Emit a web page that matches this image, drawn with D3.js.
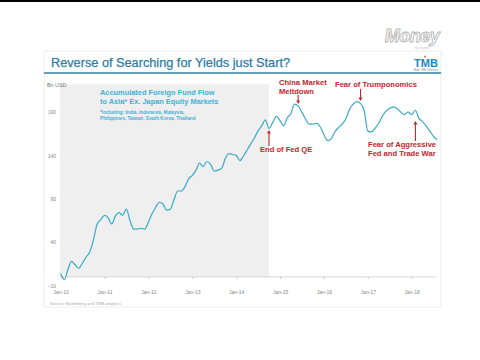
<!DOCTYPE html>
<html>
<head>
<meta charset="utf-8">
<script src="https://cdn.jsdelivr.net/npm/d3@7"></script>
<style>
body{margin:0;background:#fff}
svg{display:block;font-family:"Liberation Sans",Arial,sans-serif}
</style>
</head>
<body>
<svg id="chart" width="480" height="360"></svg>
<script>
// accumulated foreign fund flow, Bn USD, monthly from Jan-2010
const flow = [
	4, -3, 8, 18, 14, 10, 16, 23, 29, 43, 61, 66,
	71, 68, 61, 70, 74, 71, 78, 65, 55, 55, 56, 55,
	63, 73, 80, 86, 84, 77, 78, 89, 99, 99, 104, 113,
	117, 123, 131, 127, 133, 130, 122, 123, 125, 136, 142, 141,
	140, 134, 139, 146, 153, 160, 168, 174, 181, 171, 178, 185,
	180, 174, 183, 188, 199, 197, 190, 182, 176, 176, 177, 173,
	164, 157, 159, 167, 172, 176, 182, 193, 199, 202, 200, 192,
	168, 167, 171, 177, 185, 191, 194, 196, 194, 190, 187, 190,
	187, 192, 183, 179, 174, 168, 162, 158
];
const yTicks = [-10, 40, 90, 140, 190];
const xTickYears = [2010, 2011, 2012, 2013, 2014, 2015, 2016, 2017, 2018];
const shadeEnd = "2014-10";
const noteDates = ["2014-10", "2015-06", "2016-11", "2018-02"];
const noteLines = [
	["End of Fed QE"],
	["China Market", "Meltdown"],
	["Fear of Trumponomics"],
	["Fear of Aggressive", "Fed and Trade War"]
];
const chartTitle = "Reverse of Searching for Yields just Start?";
const seriesTitle = ["Accumulated Foreign Fund Flow", "to Asia* Ex. Japan Equity Markets"];
const footnote = ["*Including: India, Indonesia, Malaysia,", "Philippines, Taiwan, South Korea, Thailand"];

const svg = d3.select("#chart");
const parseM = d3.timeParse("%Y-%m");
const start = new Date(2010, 0, 1);
const data = flow.map((v, i) => ({date: d3.timeMonth.offset(start, i), v: v}));

const x = d3.scaleTime().domain([start, new Date(2018, 0, 1)]).range([60.7, 411.7]);
const y = d3.scaleLinear().domain([-10, 190]).range([285.6, 112]);

// frame
svg.append("rect").attr("x", 0).attr("y", 0).attr("width", 480).attr("height", 2).attr("fill", "#000");
svg.append("rect").attr("x", 44).attr("y", 51).attr("width", 397).attr("height", 256)
	.attr("fill", "#fff").attr("stroke", "#e8e8e8").attr("stroke-width", 0.8);

// watermark
svg.append("text").attr("x", 412).attr("y", 42).attr("text-anchor", "middle")
	.attr("font-size", 18).attr("font-weight", "bold").attr("font-style", "italic")
	.attr("fill", "#fff").attr("stroke", "#b5b5b5").attr("stroke-width", 0.9)
	.attr("letter-spacing", -0.5).text("Money");
svg.append("text").attr("x", 422).attr("y", 48.5).attr("text-anchor", "middle")
	.attr("font-size", 2.8).attr("fill", "#bbb").text("the channel");

// title
svg.append("text").attr("x", 51).attr("y", 66.5).attr("font-size", 13.6)
	.attr("fill", "#2b7ba5").attr("stroke", "#2b7ba5").attr("stroke-width", 0.25)
	.attr("textLength", 239).attr("lengthAdjust", "spacingAndGlyphs").text(chartTitle);
svg.append("line").attr("x1", 44).attr("x2", 441).attr("y1", 73).attr("y2", 73)
	.attr("stroke", "#2f7fa3").attr("stroke-width", 1.6);
svg.append("text").attr("x", 426).attr("y", 67).attr("text-anchor", "middle")
	.attr("font-size", 11).attr("font-weight", "bold").attr("fill", "#1c86c4").text("TMB");
svg.append("circle").attr("cx", 425).attr("cy", 56.5).attr("r", 0.9).attr("fill", "#e0552a");
svg.append("text").attr("x", 426).attr("y", 71).attr("text-anchor", "middle")
	.attr("font-size", 2.6).attr("fill", "#888").text("Make THE Difference");

// shaded QE period
svg.append("rect").attr("x", 60).attr("y", y(222))
	.attr("width", x(parseM(shadeEnd)) - 60).attr("height", y(0) - y(222))
	.attr("fill", "#efefef");

// axes
svg.append("text").attr("x", 47).attr("y", 87).attr("font-size", 5.4).attr("fill", "#777").text("Bn USD");

svg.append("g").attr("transform", "translate(60,0)")
	.call(d3.axisLeft(y).tickValues(yTicks).tickSize(0).tickPadding(4))
	.call(g => g.select(".domain").remove())
	.call(g => g.selectAll("text").attr("font-size", 5).attr("fill", "#888").attr("font-family", null));

svg.append("g").attr("transform", `translate(0,${y(0)})`)
	.call(d3.axisBottom(x).tickValues(xTickYears.map(yr => new Date(yr, 0, 1)))
		.tickFormat(d3.timeFormat("Jan-%y")).tickSize(2).tickPadding(12))
	.call(g => g.select(".domain").remove())
	.call(g => g.selectAll("line").attr("stroke", "#c8c8c8"))
	.call(g => g.selectAll("text").attr("font-size", 5).attr("fill", "#888").attr("font-family", null));
svg.append("line").attr("x1", 60).attr("x2", 436).attr("y1", y(0)).attr("y2", y(0))
	.attr("stroke", "#cfcfcf").attr("stroke-width", 0.8);

// series
svg.append("path").datum(data)
	.attr("d", d3.line().x(d => x(d.date)).y(d => y(d.v)).curve(d3.curveMonotoneX))
	.attr("fill", "none").attr("stroke", "#3aa9c9").attr("stroke-width", 1.2);

// series caption
svg.selectAll(".cap").data(seriesTitle).enter().append("text")
	.attr("x", 100).attr("y", (d, i) => 94.5 + i * 9)
	.attr("font-size", 7.4).attr("font-weight", "bold").attr("fill", "#3fb1d6").text(d => d);
svg.selectAll(".fn").data(footnote).enter().append("text")
	.attr("x", 100).attr("y", (d, i) => 113.5 + i * 6)
	.attr("font-size", 4.7).attr("font-weight", "bold").attr("fill", "#3fb1d6").text(d => d);

// annotations
const red = "#c0272d";
const noteLayout = [
	{tx: 260, ty: 152, a0: 146, a1: 130},
	{tx: 279, ty: 85, a0: 95, a1: 104},
	{tx: 335, ty: 87, a0: 89, a1: 101},
	{tx: 368, ty: 147, a0: 141, a1: 121}
];
noteLines.forEach((lines, i) => {
	const L = noteLayout[i];
	lines.forEach((t, j) => {
		svg.append("text").attr("x", L.tx).attr("y", L.ty + j * 9)
			.attr("font-size", 7.6).attr("font-weight", "bold").attr("fill", red).text(t);
	});
	const ax = x(parseM(noteDates[i]));
	const dir = L.a1 > L.a0 ? 1 : -1;
	svg.append("line").attr("x1", ax).attr("x2", ax).attr("y1", L.a0).attr("y2", L.a1 - dir * 3)
		.attr("stroke", red).attr("stroke-width", 1.1);
	svg.append("path")
		.attr("d", `M${ax - 2},${L.a1 - dir * 3.5}L${ax + 2},${L.a1 - dir * 3.5}L${ax},${L.a1}Z`)
		.attr("fill", red);
});

// source
svg.append("text").attr("x", 50).attr("y", 304.5).attr("font-size", 4.2).attr("fill", "#aaa")
	.text("Source: Bloomberg and TMB analytics");
</script>
</body>
</html>
